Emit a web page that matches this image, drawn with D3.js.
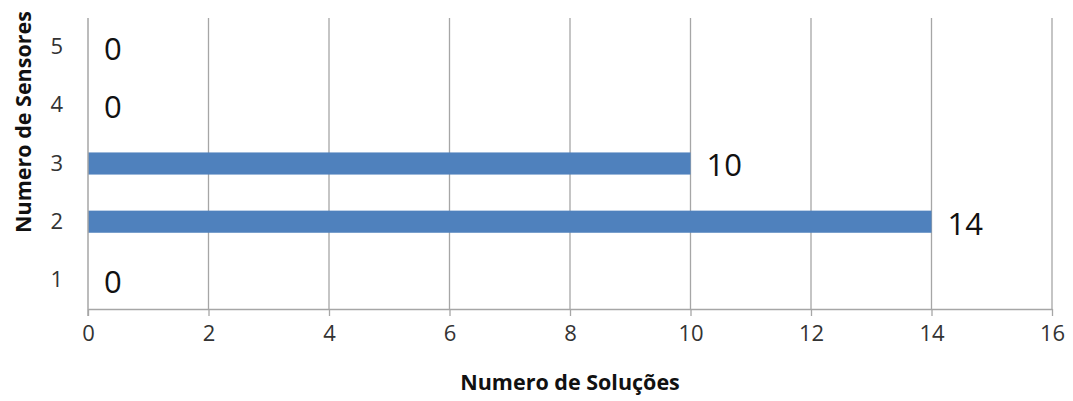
<!DOCTYPE html>
<html>
<head>
<meta charset="utf-8">
<script src="https://cdn.jsdelivr.net/npm/d3@7"></script>
<style>
  html, body { margin: 0; padding: 0; background: #fff; }
  svg { display: block; }
</style>
</head>
<body>
<svg id="chart" width="1073" height="401"></svg>
<script>
const categories = ["1", "2", "3", "4", "5"];
const values = [0, 14, 10, 0, 0];
const xTicks = [0, 2, 4, 6, 8, 10, 12, 14, 16];
const xTitle = "Numero de Soluções";
const yTitle = "Numero de Sensores";

const svg = d3.select("#chart");
const margin = { left: 88, right: 21, top: 18, bottom: 92 };
const W = 1073, H = 401;
const innerW = W - margin.left - margin.right;
const innerH = H - margin.top - margin.bottom;
const font = "'Open Sans', sans-serif";

const x = d3.scaleLinear().domain([0, 16]).range([margin.left, margin.left + innerW]);
const y = d3.scaleBand().domain(categories.slice().reverse())
  .range([margin.top, margin.top + innerH]).paddingInner(0.62).paddingOuter(0.31);

const gridColor = "#a6a6a6";

// gridlines
svg.append("g").selectAll("line").data(xTicks.slice(1)).join("line")
  .attr("x1", d => x(d)).attr("x2", d => x(d))
  .attr("y1", margin.top).attr("y2", margin.top + innerH)
  .attr("stroke", gridColor).attr("stroke-width", 1.3);

// bars
svg.append("g").selectAll("rect").data(categories).join("rect")
  .attr("x", x(0))
  .attr("y", (d) => y(d))
  .attr("width", (d, i) => x(values[i]) - x(0))
  .attr("height", y.bandwidth())
  .attr("fill", "#4f81bd");

// x axis
const xAxis = svg.append("g")
  .attr("transform", `translate(0,${margin.top + innerH})`)
  .call(d3.axisBottom(x).tickValues(xTicks).tickSize(7).tickSizeOuter(0).tickPadding(9));
xAxis.select(".domain").attr("stroke", gridColor).attr("stroke-width", 1.5);
xAxis.selectAll(".tick line").attr("stroke", gridColor).attr("stroke-width", 1.3);
xAxis.selectAll(".tick text").attr("font-family", font).attr("font-size", 22).attr("fill", "#333");

// y axis
const yAxis = svg.append("g")
  .attr("transform", `translate(${margin.left},0)`)
  .call(d3.axisLeft(y).tickSize(0).tickPadding(25));
yAxis.select(".domain").attr("stroke", gridColor).attr("stroke-width", 1.5)
  .attr("d", `M0,${margin.top}V${margin.top + innerH + 7}`);
yAxis.selectAll(".tick text").attr("font-family", font).attr("font-size", 22).attr("fill", "#333");

// value labels
svg.append("g").selectAll("text").data(categories).join("text")
  .attr("x", (d, i) => x(values[i]) + 16)
  .attr("y", d => y(d) + y.bandwidth() / 2 + 2)
  .attr("dy", "0.35em")
  .attr("font-family", font).attr("font-size", 31).attr("fill", "#111")
  .text((d, i) => values[i]);

// titles
svg.append("text")
  .attr("x", 570).attr("y", 390)
  .attr("text-anchor", "middle")
  .attr("font-family", font).attr("font-size", 21.5).attr("font-weight", "bold")
  .attr("fill", "#111")
  .text(xTitle);

svg.append("text")
  .attr("transform", "translate(31,122) rotate(-90)")
  .attr("text-anchor", "middle")
  .attr("font-family", font).attr("font-size", 21.5).attr("font-weight", "bold")
  .attr("fill", "#111")
  .text(yTitle);
</script>
</body>
</html>
